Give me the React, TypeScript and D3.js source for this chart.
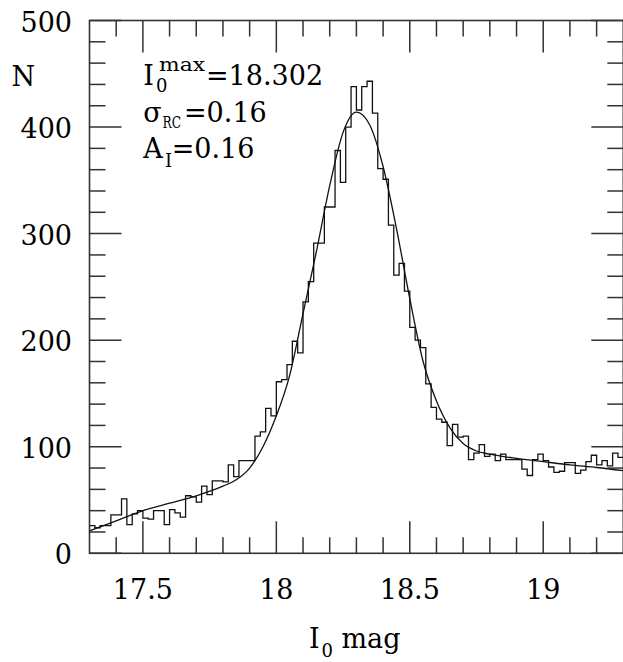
import React from 'react';
import * as d3 from 'd3';

// ---- data ----
const BIN_START = 17.3;
const BIN_WIDTH = 0.02;
const counts = [
  26, 24, 26, 26, 36, 36, 51, 27, 37, 40,
  33, 32, 40, 40, 27, 41, 38, 34, 54, 53,
  48, 63, 55, 68, 68, 67, 83, 72, 87, 87,
  87, 110, 114, 136, 129, 161, 163, 177, 199, 188,
  236, 255, 291, 291, 325, 325, 378, 348, 400, 438,
  416, 438, 443, 413, 361, 351, 308, 261, 272, 246,
  212, 200, 193, 159, 137, 126, 123, 101, 121, 109,
  110, 88, 94, 102, 91, 93, 87, 93, 88, 88,
  88, 79, 73, 88, 93, 87, 81, 76, 77, 85,
  85, 75, 78, 86, 92, 83, 87, 82, 94, 90,
];
const fitMag = [17.3, 17.4, 17.5, 17.6, 17.7, 17.8, 17.85, 17.9, 17.95, 18.0, 18.05, 18.1, 18.15, 18.2, 18.25, 18.3, 18.35, 18.4, 18.45, 18.5, 18.55, 18.6, 18.65, 18.7, 18.75, 18.8, 18.9, 19.0, 19.1, 19.2, 19.3];
const fitN = [21, 30.5, 40, 47, 54, 63, 69, 80, 100, 129, 167, 225, 283, 345, 395, 414, 402, 363, 305, 239, 180, 143, 118, 103, 96, 93, 89, 86, 83, 80.5, 77.5];

const xDomain = [17.3, 19.3];
const yDomain = [0, 500];
const xMajorTicks = [17.5, 18, 18.5, 19];
const xTickLabels = ['17.5', '18', '18.5', '19'];
const xMinorTicks = [17.4, 17.6, 17.7, 17.8, 17.9, 18.1, 18.2, 18.3, 18.4, 18.6, 18.7, 18.8, 18.9, 19.1, 19.2];
const yMajorTicks = [0, 100, 200, 300, 400, 500];
const yTickLabels = ['0', '100', '200', '300', '400', '500'];
const yMinorTicks = [20, 40, 60, 80, 120, 140, 160, 180, 220, 240, 260, 280, 320, 340, 360, 380, 420, 440, 460, 480];

// ---- layout ----
const W = 623;
const H = 662;
const L = 89.5;
const R = 623.3;
const T = 20.5;
const B = 553.3;
const FONT = '"DejaVu Serif", serif';
const AXIS = '#333';
const INK = '#111';

export default function App() {
  const x = d3.scaleLinear().domain(xDomain).range([L, R]);
  const y = d3.scaleLinear().domain(yDomain).range([B, T]);

  const histPts: [number, number][] = counts.map((c, i) => [BIN_START + i * BIN_WIDTH, c]);
  histPts.push([BIN_START + counts.length * BIN_WIDTH, counts[counts.length - 1]]);
  const histPath = d3
    .line<[number, number]>()
    .x((d) => x(d[0]))
    .y((d) => y(d[1]))
    .curve(d3.curveStepAfter)(histPts) as string;

  const fitPts: [number, number][] = fitMag.map((m, i) => [m, fitN[i]]);
  const fitPath = d3
    .line<[number, number]>()
    .x((d) => x(d[0]))
    .y((d) => y(d[1]))
    .curve(d3.curveMonotoneX)(fitPts) as string;

  const minorLen = 16;
  const majorLen = 32;

  return (
    <svg
      width={W}
      height={H}
      style={{ position: 'absolute', left: 0, top: 0, background: '#fff' }}
      fontFamily={FONT}
    >
      <defs>
        <clipPath id="plot">
          <rect x={L} y={T} width={R - L} height={B - T} />
        </clipPath>
      </defs>
      <rect x={0} y={0} width={W} height={H} fill="#fff" />

      {/* data */}
      <g clipPath="url(#plot)" fill="none">
        <path d={histPath} stroke={INK} strokeWidth={1.3} />
        <path d={fitPath} stroke={INK} strokeWidth={1.3} />
      </g>

      {/* frame */}
      <rect x={L} y={T} width={R - L} height={B - T} fill="none" stroke={AXIS} strokeWidth={1.6} />

      {/* ticks */}
      <g stroke={AXIS} strokeWidth={1.5}>
        {xMinorTicks.map((t) => (
          <g key={'xm' + t}>
            <line x1={x(t)} x2={x(t)} y1={B} y2={B - minorLen} />
            <line x1={x(t)} x2={x(t)} y1={T} y2={T + minorLen} />
          </g>
        ))}
        {xMajorTicks.map((t) => (
          <g key={'xM' + t}>
            <line x1={x(t)} x2={x(t)} y1={B} y2={B - majorLen} />
            <line x1={x(t)} x2={x(t)} y1={T} y2={T + majorLen} />
          </g>
        ))}
        {yMinorTicks.map((t) => (
          <g key={'ym' + t}>
            <line x1={L} x2={L + minorLen} y1={y(t)} y2={y(t)} />
            <line x1={R} x2={R - minorLen} y1={y(t)} y2={y(t)} />
          </g>
        ))}
        {yMajorTicks.map((t) => (
          <g key={'yM' + t}>
            <line x1={L} x2={L + majorLen} y1={y(t)} y2={y(t)} />
            <line x1={R} x2={R - majorLen} y1={y(t)} y2={y(t)} />
          </g>
        ))}
      </g>

      {/* tick labels */}
      <g fontSize={27} fill="#000">
        {xMajorTicks.map((t, i) => (
          <text key={'xl' + t} x={x(t)} y={598.5} textAnchor="middle">
            {xTickLabels[i]}
          </text>
        ))}
        {yMajorTicks.map((t, i) => (
          <text key={'yl' + t} x={72} y={y(t) + 11} textAnchor="end">
            {yTickLabels[i]}
          </text>
        ))}
      </g>

      {/* axis titles */}
      <g fill="#000">
        <text x={11.5} y={86} fontSize={27}>N</text>
        <text x={309} y={648} fontSize={27}>I</text>
        <text x={321.5} y={656.5} fontSize={18}>0</text>
        <text x={341.5} y={648} fontSize={27}>mag</text>
      </g>

      {/* annotation */}
      <g fill="#000">
        <text x={143.3} y={85} fontSize={27}>I</text>
        <text x={156} y={91.7} fontSize={18}>0</text>
        <text x={159} y={71} fontSize={19} textLength={46} lengthAdjust="spacingAndGlyphs">max</text>
        <text x={206} y={85} fontSize={27}>=18.302</text>

        <text x={143.3} y={121.7} fontSize={27}>σ</text>
        <text x={162.5} y={128.3} fontSize={16} textLength={18.5} lengthAdjust="spacingAndGlyphs">RC</text>
        <text x={184} y={121.7} fontSize={27}>=0.16</text>

        <text x={143.3} y={158.3} fontSize={27}>A</text>
        <text x={165} y={166.7} fontSize={18}>I</text>
        <text x={171.7} y={158.3} fontSize={27}>=0.16</text>
      </g>
    </svg>
  );
}
